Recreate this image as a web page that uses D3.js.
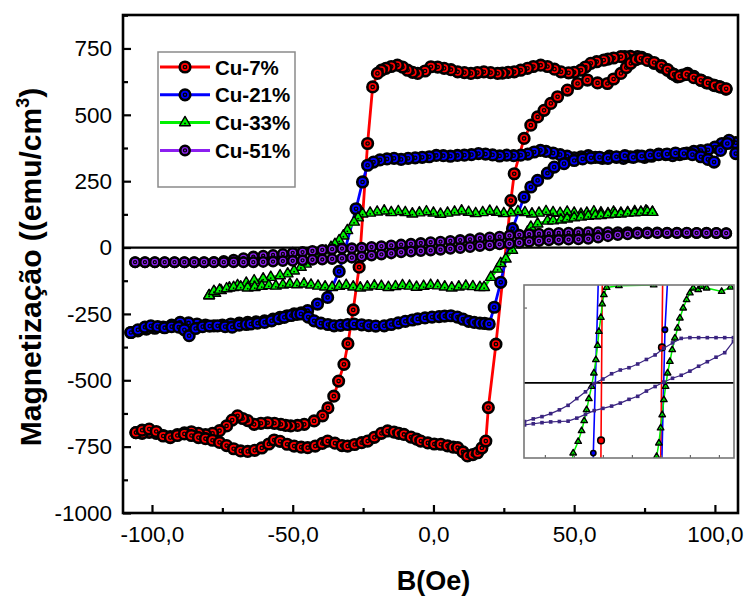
<!DOCTYPE html>
<html>
<head>
<meta charset="utf-8">
<script src="https://cdn.jsdelivr.net/npm/d3@7"></script>
<style>
  body { margin: 0; background: #fff; }
  text { font-family: Arial, "Liberation Sans", sans-serif; }
</style>
</head>
<body>
<svg id="chart" width="744" height="597"></svg>
<script>
// Hysteresis loops M(B) for Cu-Co films, each loop as [B (Oe), M (emu/cm3)] pairs
// Cu-7%: descending branch (high field to low field)
const cu7Down = [
  [103.9,597],[101.5,606],[99.5,612],[97,620],[95,631],[92.5,645],[90.3,656],[88.5,650],[86.7,643],[84.8,655],
  [83.2,668],[81,680],[78.4,694],[76,708],[74,716],[72.5,719],[70,720],[68,719],[66.6,719],[64,714],
  [62,710],[60.5,706],[58,700],[55.9,694],[54,680],[52.4,668],[50,660],[48,658],[45.3,662],[43,672],
  [40.5,682],[38.1,687],[35.5,682],[33.4,675],[31,668],[28.7,662],[26.5,660],[24.5,657],[22.8,656],[20.3,659],
  [17.9,662],[15.6,659],[13.3,656],[11,659],[8.6,662],[6.2,670],[3.8,675],[1.5,680],[-0.9,681],[-3,665],
  [-5.6,656],[-7.4,660],[-9.2,668],[-11,680],[-12.8,687],[-15,682],[-16.9,675],[-18.5,668],[-19.9,656],[-21.6,605],
  [-23.4,392],[-26.4,-74],[-28.5,-235],[-30.4,-362],[-31.8,-440],[-33.7,-503],[-35.4,-560],[-37.5,-604],[-39.4,-634],[-42.4,-653],
  [-45.9,-666],[-48.3,-670],[-50.7,-672],[-52.5,-670],[-54.2,-666],[-56.5,-662],[-58.9,-660],[-61.3,-662],[-63.7,-666],[-66,-652],
  [-67.8,-644],[-69.6,-634],[-71.5,-650],[-73.5,-672],[-76,-690],[-78.5,-700],[-81,-705],[-83.5,-700],[-86,-694],[-88.5,-698],
  [-91,-705],[-93.5,-712],[-96,-708],[-98.5,-700],[-101,-696],[-103.5,-700],[-105.7,-697]
];
// Cu-7%: ascending branch (low field to high field)
const cu7Up = [
  [-105.7,-697],[-103.5,-688],[-101,-684],[-98.5,-693],[-96,-710],[-93.5,-716],[-91,-708],[-88.5,-702],[-86,-708],[-83.5,-716],
  [-81,-720],[-78.5,-726],[-76,-734],[-73.5,-746],[-71,-758],[-68.5,-766],[-66,-768],[-63.5,-764],[-61,-755],[-58.5,-740],
  [-56.6,-725],[-54.5,-730],[-52,-741],[-49.5,-748],[-47,-752],[-44.7,-754],[-42,-748],[-39.5,-738],[-37.6,-729],[-35,-737],
  [-32.5,-746],[-30.5,-748],[-28,-742],[-25.5,-735],[-23.4,-729],[-21,-715],[-18.5,-700],[-16.3,-691],[-14,-695],[-12.3,-700],
  [-10.5,-704],[-8,-714],[-6,-722],[-4.5,-729],[-2,-736],[0.3,-740],[2.6,-741],[5,-747],[7,-752],[8.6,-754],
  [10.5,-770],[12.1,-785],[14,-780],[15.7,-773],[17.2,-755],[18.6,-729],[19.5,-603],[22.2,-364],[27.5,177],[28.7,278],
  [32.2,411],[34.6,461],[37,492],[39.3,517],[41.7,543],[44.1,568],[47.6,593],[51.2,618],[54.7,631],[58.3,620],
  [61.8,618],[64,635],[66.6,656],[68.5,678],[70.1,694],[72,708],[73.7,713],[76,705],[78.4,697],[81,685],
  [83.2,670],[85.5,652],[87.5,645],[90,652],[92.5,640],[95,630],[97.5,620],[100,610],[102,604],[104,598]
];
// Cu-21%
const cu21Down = [
  [107.4,395],[105,404],[102.5,392],[100,378],[97.5,368],[95,365],[92.5,362],[90,356],[87.5,350],[85,346],
  [82.5,350],[80,352],[77.5,344],[75,340],[72.5,345],[70,342],[67.5,336],[65,340],[62.5,344],[60,336],
  [57.5,340],[55,346],[52.5,342],[50,338],[47.5,344],[45,350],[42.5,356],[40,362],[38,366],[35.8,360],
  [33.5,352],[31,348],[28.5,346],[26,348],[23.5,345],[21,349],[18.5,352],[16,354],[13.5,350],[11,348],
  [8.5,347],[6,344],[3.5,346],[1,347],[-1.5,342],[-4,340],[-6.5,338],[-9,336],[-11.5,332],[-14,336],
  [-16.5,334],[-19,330],[-21.3,322],[-23.4,310],[-25.2,247],[-27.5,146],[-33.5,-90],[-37.6,-188],[-41.2,-213],[-44.7,-238],
  [-47,-246],[-49.5,-250],[-52,-257],[-54.5,-263],[-57,-270],[-60,-276],[-63,-280],[-66,-282],[-69,-285],[-72,-288],
  [-75,-292],[-78,-295],[-81,-292],[-84,-288],[-87,-284],[-90,-282],[-93,-292],[-96,-300],[-99,-304],[-102,-307],
  [-105,-314],[-107.5,-320]
];
const cu21Up = [
  [-107.5,-320],[-105,-310],[-102.5,-300],[-100.4,-295],[-98,-298],[-95.5,-302],[-93,-298],[-90.5,-300],[-88.5,-310],[-86.8,-332],
  [-84.5,-305],[-82,-298],[-79.5,-296],[-76.7,-295],[-74,-298],[-71.5,-300],[-69,-292],[-66.5,-290],[-64.9,-288],[-62.5,-285],
  [-60,-282],[-57.5,-276],[-55,-268],[-53,-263],[-50.5,-256],[-48.5,-252],[-47.1,-250],[-44.5,-262],[-42.4,-276],[-40,-285],
  [-37.5,-290],[-35.3,-295],[-33,-293],[-30.5,-290],[-28.2,-288],[-25.5,-291],[-23,-294],[-20.5,-296],[-17.5,-295],[-15,-290],
  [-12.5,-284],[-10,-278],[-7.5,-273],[-5.6,-269],[-3,-265],[-0.5,-262],[2,-260],[4,-258],[6.2,-257],[8.5,-262],
  [10.5,-270],[12.5,-278],[14.5,-282],[16.5,-285],[18.2,-286],[19.8,-288],[21.6,-225],[23.9,-131],[28.1,71],[32.2,190],
  [34.6,228],[37,253],[40.5,280],[42.9,303],[46.4,316],[50,328],[53,334],[56,338],[59,340],[62,336],
  [65,342],[68,346],[71,340],[74,344],[77,348],[80,350],[83,352],[86,356],[89,354],[92,350],
  [95,342],[97.5,332],[99.7,322],[102,366],[104.4,392],[107.4,354]
];
// Cu-33%
const cu33Down = [
  [77.8,133],[75.5,138],[73.7,133],[71.5,136],[69,132],[66.6,130],[64,134],[62,128],[59.5,131],[57,135],
  [54.5,130],[52.4,126],[50,130],[47.5,134],[45,129],[42.5,132],[40,136],[37.5,130],[35,127],[32.5,132],
  [30,136],[27.5,131],[25,128],[22.5,133],[20,137],[17.5,132],[15,128],[12.5,133],[10,138],[7.5,134],
  [5,130],[2.5,126],[0,130],[-2.5,135],[-5,131],[-7.5,127],[-10,132],[-12.5,136],[-15,132],[-17.5,138],
  [-20,134],[-22.5,130],[-25.2,127],[-26.8,112],[-28.2,96],[-30.6,64],[-32,44],[-33.5,26],[-35,12],[-36.4,1],
  [-38.2,-12],[-40,-24],[-41.8,-37],[-43.6,-49],[-45.3,-62],[-47.1,-74],[-49.5,-88],[-51.8,-99],[-54.5,-106],[-57.8,-112],
  [-60.5,-118],[-63.7,-125],[-66.5,-134],[-69.6,-143],[-72.5,-152],[-75.5,-162],[-77.5,-172],[-79.7,-181]
];
const cu33Up = [
  [-79.7,-181],[-78,-165],[-76,-160],[-73.5,-155],[-71,-150],[-68.5,-148],[-66,-152],[-63.5,-150],[-61,-146],[-58.5,-143],
  [-56,-145],[-53.5,-141],[-51,-138],[-48.5,-140],[-46,-137],[-43.5,-141],[-41,-145],[-38.5,-148],[-36,-150],[-33.5,-146],
  [-31,-142],[-28.5,-148],[-26,-152],[-23.5,-148],[-21,-144],[-18.5,-146],[-16,-150],[-13.5,-147],[-11,-143],[-8.5,-145],
  [-6,-149],[-3.5,-146],[-1,-142],[1.5,-144],[4,-148],[6.5,-152],[9,-148],[11.5,-145],[14,-147],[16.5,-150],
  [18,-150],[20.4,-112],[22.8,-81],[23.9,-60],[25.7,-43],[28,-10],[30.5,25],[33.4,58],[34.6,77],[37,89],
  [40.5,100],[42.5,101],[45.3,104],[47.5,108],[50,112],[52.4,115],[55,118],[57.5,120],[59.5,121],[62,124],
  [64.5,126],[66.6,127],[69,130],[71.5,131],[73.7,133],[76,134],[77.8,133]
];
// Cu-51%
const cu51Down = [
  [104,54],[100.5,55],[97,56],[93.5,55],[90,55],[86.5,56],[83,56],[79.5,57],[76,57],[72.5,57],
  [69,58],[65.5,58],[62,58],[58.5,58],[55,58],[51.5,57],[48,56],[44.5,55],[41,53],[37.5,52],
  [34,50],[30.5,48],[27,45],[23.5,41],[20,38],[16.5,35],[13,31],[9.5,28],[6,25],[2.5,22],
  [-1,20],[-4.5,17],[-8,14],[-11.5,11],[-15,8],[-18.5,5],[-22,2],[-25.5,-1],[-29,-3],[-32.5,-4],
  [-36,-6],[-39.5,-9],[-43,-13],[-46.5,-17],[-50,-20],[-53.5,-24],[-57,-28],[-60.5,-31],[-64,-34],[-67.5,-40],
  [-71,-46],[-74.5,-51],[-78,-54],[-81.5,-55],[-85,-55],[-88.5,-55],[-92,-55],[-95.5,-55],[-99,-55],[-102.5,-55],
  [-106,-55]
];
const cu51Up = [
  [-106,-55],[-102.5,-55],[-99,-55],[-95.5,-55],[-92,-55],[-88.5,-55],[-85,-55],[-81.5,-55],[-78,-55],[-74.5,-55],
  [-71,-55],[-67.5,-55],[-64,-55],[-60.5,-54],[-57,-53],[-53.5,-51],[-50,-50],[-46.5,-48],[-43,-46],[-39.5,-45],
  [-36,-43],[-32.5,-41],[-29,-38],[-25.5,-34],[-22,-30],[-18.5,-26],[-15,-22],[-11.5,-18],[-8,-15],[-4.5,-13],
  [-1,-11],[2.5,-8],[6,-5],[9.5,-2],[13,2],[16.5,6],[20,9],[23.5,12],[27,14],[30.5,18],
  [34,22],[37.5,25],[41,27],[44.5,29],[48,30],[51.5,31],[55,33],[58.5,38],[62,43],[65.5,47],
  [69,50],[72.5,53],[76,54],[79.5,55],[83,55],[86.5,55],[90,56],[93.5,55],[97,55],[100.5,55],
  [104,54]
];

// Inset: enlarged view of the switching region (arbitrary units)
const insetRedA = [[-1.075,-1.4],[-1.064,-0.767],[-1.02,1.4]];
const insetRedB = [[0.985,-1.4],[1.035,0.47],[1.062,1.4]];
const insetBlueA = [[-1.345,-1.4],[-1.33,-0.935],[-1.155,1.4]];
const insetBlueB = [[1.01,-1.4],[1.14,0.705],[1.235,1.4]];
const insetGreenA = [
  [-2.1,-1.15],[-2.024,-0.935],[-1.852,-0.781],[-1.734,-0.638],[-1.645,-0.505],[-1.562,-0.359],[-1.483,-0.213],[-1.39,-0.049],
  [-1.31,0.129],[-1.241,0.306],[-1.183,0.496],[-1.138,0.682],[-1.069,0.868],[-1.024,1.047],[-0.966,1.17],[-0.872,1.267],
  [-0.448,1.29],[0.75,1.3]
];
const insetGreenB = [
  [0.82,-1.15],[0.852,-0.98],[0.931,-0.802],[0.99,-0.602],[1.045,-0.426],[1.103,-0.226],[1.162,-0.049],[1.231,0.129],
  [1.31,0.283],[1.39,0.439],[1.483,0.594],[1.576,0.727],[1.655,0.86],[1.769,0.993],[1.886,1.104],[2.0,1.193],
  [2.114,1.259],[2.286,1.237],[2.403,1.281],[2.576,1.259],[3.093,1.214],[3.4,1.27]
];
const insetPurpleUp = [
  [-3.7,-0.56],[-3.4,-0.545],[-3.1,-0.53],[-2.8,-0.52],[-2.5,-0.515],[-2.2,-0.51],[-1.9,-0.47],[-1.6,-0.42],[-1.3,-0.37],
  [-1.0,-0.34],[-0.7,-0.31],[-0.4,-0.27],[-0.1,-0.22],[0.2,-0.18],[0.5,-0.11],[0.8,-0.05],[1.1,0.01],[1.4,0.06],
  [1.7,0.1],[2.0,0.155],[2.3,0.22],[2.6,0.28],[2.9,0.34],[3.2,0.4],[3.5,0.55]
];
const insetPurpleDown = [
  [3.5,0.6],[3.2,0.6],[2.9,0.6],[2.6,0.6],[2.3,0.6],[2.0,0.6],[1.7,0.59],[1.4,0.53],[1.1,0.46],
  [0.8,0.37],[0.5,0.31],[0.2,0.25],[-0.1,0.2],[-0.4,0.17],[-0.7,0.12],[-1.0,0.05],[-1.3,-0.01],[-1.6,-0.12],
  [-1.9,-0.21],[-2.2,-0.3],[-2.5,-0.36],[-2.8,-0.41],[-3.1,-0.45],[-3.4,-0.48],[-3.7,-0.515]
];

// Axis ticks and labels
const yTicks = [-1000, -750, -500, -250, 0, 250, 500, 750];
const yMinorTicks = [-875, -625, -375, -125, 125, 375, 625, 875];
const xTicks = [-100, -50, 0, 50, 100];
const xMinorTicks = [-75, -25, 25, 75];
const insetXTicks = [-3, -2, -1, 0, 1, 2, 3];
const insetYTicks = [1];
const seriesNames = ["Cu-7%", "Cu-21%", "Cu-33%", "Cu-51%"];
const seriesColors = ["#ff0000", "#0000ff", "#00f000", "#8c1ff0"];

const svg = d3.select("#chart");
const plot = { left: 123, right: 738, top: 15, bottom: 513 };

const x = d3.scaleLinear().domain([-110.3, 108.2]).range([plot.left, plot.right]);
const y = d3.scaleLinear().domain([-1000, 876]).range([plot.bottom, plot.top]);

const locale = d3.formatLocale({ decimal: ",", thousands: ".", grouping: [3], currency: ["", ""], minus: "-" });
const fmtX = locale.format(".1f");
const fmtY = locale.format("d");

svg.append("defs").append("clipPath").attr("id", "plotClip")
  .append("rect").attr("x", plot.left).attr("y", plot.top)
  .attr("width", plot.right - plot.left).attr("height", plot.bottom - plot.top);

// zero line
svg.append("line")
  .attr("x1", plot.left).attr("x2", plot.right)
  .attr("y1", y(0)).attr("y2", y(0))
  .attr("stroke", "#000").attr("stroke-width", 2.2);

const dataLayer = svg.append("g").attr("clip-path", "url(#plotClip)");

const line = d3.line().x(d => x(d[0])).y(d => y(d[1]));

function circleMarker(g, cx, cy, color, r) {
  g.append("circle").attr("cx", cx).attr("cy", cy).attr("r", r)
    .attr("fill", color).attr("stroke", "#000").attr("stroke-width", 2.6);
  g.append("circle").attr("cx", cx).attr("cy", cy).attr("r", r * 0.32)
    .attr("fill", color).attr("stroke", "#000").attr("stroke-width", 1.3);
}
const triPath = d3.symbol(d3.symbolTriangle, 50)();
function triMarker(g, cx, cy, color, scale) {
  g.append("path").attr("d", triPath)
    .attr("transform", `translate(${cx},${cy}) scale(${scale})`)
    .attr("fill", color).attr("stroke", "#000").attr("stroke-width", 1.4 / scale)
    .attr("stroke-linejoin", "round");
  g.append("circle").attr("cx", cx).attr("cy", cy + 0.8 * scale).attr("r", 0.9 * scale).attr("fill", "#000");
}

const series = [
  { branches: [cu7Down, cu7Up], color: seriesColors[0], kind: "circle", r: 5.3 },
  { branches: [cu21Down, cu21Up], color: seriesColors[1], kind: "circle", r: 5.3 },
  { branches: [cu33Down, cu33Up], color: seriesColors[2], kind: "tri" },
  { branches: [cu51Down, cu51Up], color: seriesColors[3], kind: "circle", r: 4.7 }
];

series.forEach(s => {
  const g = dataLayer.append("g");
  s.branches.forEach(b => {
    g.append("path").attr("d", line(b)).attr("fill", "none")
      .attr("stroke", s.color).attr("stroke-width", 2.8).attr("stroke-linejoin", "round");
  });
  s.branches.forEach(b => {
    b.forEach(d => {
      if (s.kind === "tri") triMarker(g, x(d[0]), y(d[1]), s.color, 1);
      else circleMarker(g, x(d[0]), y(d[1]), s.color, s.r);
    });
  });
});

// Axes (inward ticks)
const yAxis = d3.axisLeft(y).tickValues(yTicks).tickFormat(fmtY).tickSize(-8).tickPadding(11);
const yMinor = d3.axisLeft(y).tickValues(yMinorTicks).tickFormat("").tickSize(-5);
const xAxis = d3.axisBottom(x).tickValues(xTicks).tickFormat(fmtX).tickSize(-8).tickPadding(13);
const xMinor = d3.axisBottom(x).tickValues(xMinorTicks).tickFormat("").tickSize(-5);

function styleAxis(g) {
  g.select(".domain").remove();
  g.selectAll(".tick line").attr("stroke", "#000").attr("stroke-width", 2.2);
  g.selectAll(".tick text").attr("fill", "#000").attr("font-size", 22.5)
    .attr("font-family", "Arial, 'Liberation Sans', sans-serif");
}
svg.append("g").attr("transform", `translate(${plot.left},0)`).call(yAxis).call(styleAxis);
svg.append("g").attr("transform", `translate(${plot.left},0)`).call(yMinor).call(styleAxis);
svg.append("g").attr("transform", `translate(0,${plot.bottom})`).call(xAxis).call(styleAxis);
svg.append("g").attr("transform", `translate(0,${plot.bottom})`).call(xMinor).call(styleAxis);

// frame
svg.append("rect")
  .attr("x", plot.left).attr("y", plot.top)
  .attr("width", plot.right - plot.left).attr("height", plot.bottom - plot.top)
  .attr("fill", "none").attr("stroke", "#000").attr("stroke-width", 2.6);

// Axis titles
svg.append("text")
  .attr("x", (x(-100) + x(100)) / 2).attr("y", 590)
  .attr("text-anchor", "middle").attr("font-weight", "bold").attr("font-size", 27)
  .text("B(Oe)");

const yTitle = svg.append("text")
  .attr("transform", "translate(41,267) rotate(-90)")
  .attr("text-anchor", "middle").attr("font-weight", "bold").attr("font-size", 30);
yTitle.append("tspan").text("Magnetização ((emu/cm");
yTitle.append("tspan").attr("dy", -12).attr("font-size", 18).text("3");
yTitle.append("tspan").attr("dy", 12).text(")");

// Legend
const legend = svg.append("g");
legend.append("rect").attr("x", 158).attr("y", 52).attr("width", 137).attr("height", 135)
  .attr("fill", "#fff").attr("stroke", "#8a8a8a").attr("stroke-width", 1.5);
seriesNames.forEach((name, i) => {
  const ly = 67 + i * 27.8;
  legend.append("line").attr("x1", 160).attr("x2", 210).attr("y1", ly).attr("y2", ly)
    .attr("stroke", seriesColors[i]).attr("stroke-width", 3);
  if (i === 2) triMarker(legend, 185, ly, seriesColors[i], 1);
  else circleMarker(legend, 185, ly, seriesColors[i], i === 3 ? 4.7 : 5.3);
  legend.append("text").attr("x", 215).attr("y", ly + 7.5)
    .attr("font-weight", "bold").attr("font-size", 20.5).text(name);
});

// Inset
const inset = { left: 524, right: 734, top: 285, bottom: 458 };
const ix = d3.scaleLinear().domain([-3.72, 3.52]).range([inset.left, inset.right]);
const iy = d3.scaleLinear().domain([-1, 1.3]).range([inset.bottom, inset.top]);
svg.select("defs").append("clipPath").attr("id", "insetClip")
  .append("rect").attr("x", inset.left).attr("y", inset.top)
  .attr("width", inset.right - inset.left).attr("height", inset.bottom - inset.top);
const ig = svg.append("g");
ig.append("rect").attr("x", inset.left).attr("y", inset.top)
  .attr("width", inset.right - inset.left).attr("height", inset.bottom - inset.top)
  .attr("fill", "#fff");
const ic = ig.append("g").attr("clip-path", "url(#insetClip)");
ic.append("line").attr("x1", inset.left).attr("x2", inset.right)
  .attr("y1", iy(0)).attr("y2", iy(0)).attr("stroke", "#000").attr("stroke-width", 1.8);
const iline = d3.line().x(d => ix(d[0])).y(d => iy(d[1]));

[[insetRedA, 0], [insetRedB, 0], [insetBlueA, 1], [insetBlueB, 1]].forEach(([b, k]) => {
  ic.append("path").attr("d", iline(b)).attr("fill", "none")
    .attr("stroke", seriesColors[k]).attr("stroke-width", 1.6);
});
[insetGreenA, insetGreenB].forEach(b => {
  ic.append("path").attr("d", iline(b)).attr("fill", "none")
    .attr("stroke", seriesColors[2]).attr("stroke-width", 1.5);
  b.forEach(d => triMarker(ic, ix(d[0]), iy(d[1]), seriesColors[2], 0.6));
});
[insetRedA, insetRedB, insetBlueA, insetBlueB].forEach((b, i) => {
  const c = seriesColors[i < 2 ? 0 : 1];
  b.forEach(d => {
    ic.append("circle").attr("cx", ix(d[0])).attr("cy", iy(d[1])).attr("r", i < 2 ? 3.3 : 2.6)
      .attr("fill", c).attr("stroke", "#000").attr("stroke-width", 1.6);
  });
});
[insetPurpleUp, insetPurpleDown].forEach(b => {
  ic.append("path").attr("d", iline(b)).attr("fill", "none")
    .attr("stroke", "#3a2480").attr("stroke-width", 1.2);
  b.forEach(d => {
    ic.append("rect").attr("x", ix(d[0]) - 1.8).attr("y", iy(d[1]) - 1.8)
      .attr("width", 3.6).attr("height", 3.6).attr("fill", "#3a2480");
  });
});
// inset ticks
ig.append("g").attr("transform", `translate(0,${inset.bottom})`)
  .call(d3.axisBottom(ix).tickValues(insetXTicks).tickFormat("").tickSize(-3))
  .call(g => { g.select(".domain").remove(); g.selectAll(".tick line").attr("stroke", "#666").attr("stroke-width", 1.2); });
ig.append("g").attr("transform", `translate(${inset.left},0)`)
  .call(d3.axisLeft(iy).tickValues(insetYTicks).tickFormat("").tickSize(-3))
  .call(g => { g.select(".domain").remove(); g.selectAll(".tick line").attr("stroke", "#666").attr("stroke-width", 1.2); });
ig.append("rect").attr("x", inset.left).attr("y", inset.top)
  .attr("width", inset.right - inset.left).attr("height", inset.bottom - inset.top)
  .attr("fill", "none").attr("stroke", "#777").attr("stroke-width", 1.6);
</script>
</body>
</html>
